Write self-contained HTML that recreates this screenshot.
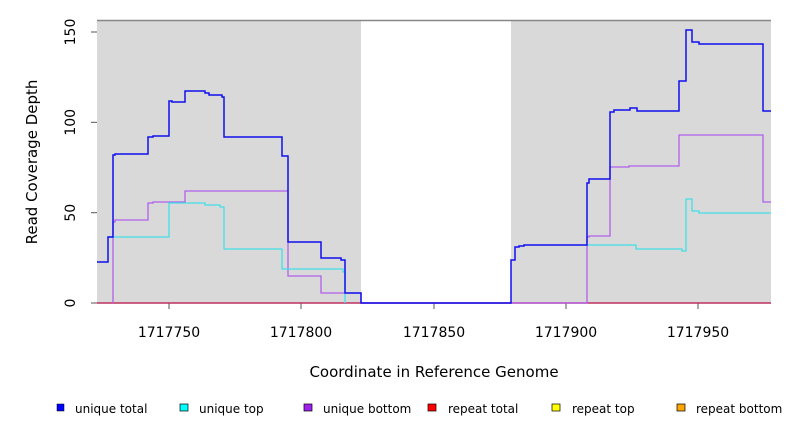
<!DOCTYPE html><html><head><style>body{margin:0;background:#fff}</style></head><body>
<svg width="792" height="432" xmlns="http://www.w3.org/2000/svg" font-family="DejaVu Sans, Liberation Sans, sans-serif">
<rect x="97" y="20" width="264" height="283" fill="#d9d9d9"/>
<rect x="511" y="20" width="260" height="283" fill="#d9d9d9"/>
<line x1="97" y1="20.5" x2="771" y2="20.5" stroke="#888" stroke-width="1.5"/>
<g stroke="#555" stroke-width="1">
<line x1="91" y1="303" x2="97" y2="303"/><line x1="91" y1="212.7" x2="97" y2="212.7"/><line x1="91" y1="122.3" x2="97" y2="122.3"/><line x1="91" y1="32" x2="97" y2="32"/>
<line x1="169" y1="303" x2="169" y2="309"/><line x1="301" y1="303" x2="301" y2="309"/><line x1="434" y1="303" x2="434" y2="309"/><line x1="566" y1="303" x2="566" y2="309"/><line x1="698" y1="303" x2="698" y2="309"/>
</g>
<line x1="97" y1="303" x2="771" y2="303" stroke="#c03060" stroke-width="1.5"/>
<polyline fill="none" stroke="#b060ee" stroke-width="1.3" points="113,303 113,222 115,222 115,220 148,220 148,203 153,203 153,202 185,202 185,191 288,191 288,276 321,276 321,293 361,293 361,303 587,303 587,237 589,237 589,236 610,236 610,167 629,167 629,166 679,166 679,135 763,135 763,202 771,202"/>
<polyline fill="none" stroke="#40e0e8" stroke-width="1.3" points="108,237 169,237 169,203 205,203 205,205 220,205 220,207 224,207 224,249 282,249 282,269 343,269 343,272 345,272 345,303 M0,0"/>
<polyline fill="none" stroke="#40e0e8" stroke-width="1.3" points="587,245 636,245 636,249 682,249 682,251 686,251 686,199 692,199 692,211 699,211 699,213 771,213"/>
<polyline fill="none" stroke="#1010ee" stroke-width="1.5" points="97,262 108,262 108,237 113,237 113,155 115,155 115,154 148,154 148,137 153,137 153,136 169,136 169,101 172,101 172,102 185,102 185,91 205,91 205,93 209,93 209,95 222,95 222,97 224,97 224,137 282,137 282,156 288,156 288,242 321,242 321,258 341,258 341,260 345,260 345,293 361,293 361,303 511,303 511,260 515,260 515,247 519,247 519,246 524,246 524,245 587,245 587,183 589,183 589,179 610,179 610,112 614,112 614,110 630,110 630,108 637,108 637,111 679,111 679,81 686,81 686,30 692,30 692,42 699,42 699,44 763,44 763,111 771,111"/>
<g font-size="14" fill="#000" text-anchor="middle">
<text x="169" y="337">1717750</text><text x="301" y="337">1717800</text><text x="434" y="337">1717850</text><text x="566" y="337">1717900</text><text x="698" y="337">1717950</text>
<text transform="translate(75,303) rotate(-90)">0</text><text transform="translate(75,212.7) rotate(-90)">50</text><text transform="translate(75,122.3) rotate(-90)">100</text><text transform="translate(75,32) rotate(-90)">150</text>
<text x="434" y="377" font-size="15">Coordinate in Reference Genome</text>
<text transform="translate(37,162) rotate(-90)" font-size="15">Read Coverage Depth</text>
</g>
<g font-size="12" fill="#000">
<rect x="57" y="404" width="7" height="7" fill="#0000ff" stroke="#000" stroke-width=".5"/><text x="75" y="413">unique total</text>
<rect x="180" y="404" width="8" height="7" fill="#00ffff" stroke="#000" stroke-width=".7"/><text x="199" y="413">unique top</text>
<rect x="304" y="404" width="8" height="7" fill="#a020f0" stroke="#000" stroke-width=".7"/><text x="323" y="413">unique bottom</text>
<rect x="428" y="404" width="8" height="7" fill="#ff0000" stroke="#000" stroke-width=".7"/><text x="448" y="413">repeat total</text>
<rect x="552" y="404" width="8" height="7" fill="#ffff00" stroke="#000" stroke-width=".7"/><text x="572" y="413">repeat top</text>
<rect x="677" y="404" width="8" height="7" fill="#ffa500" stroke="#000" stroke-width=".7"/><text x="696" y="413">repeat bottom</text>
</g>
</svg></body></html>
